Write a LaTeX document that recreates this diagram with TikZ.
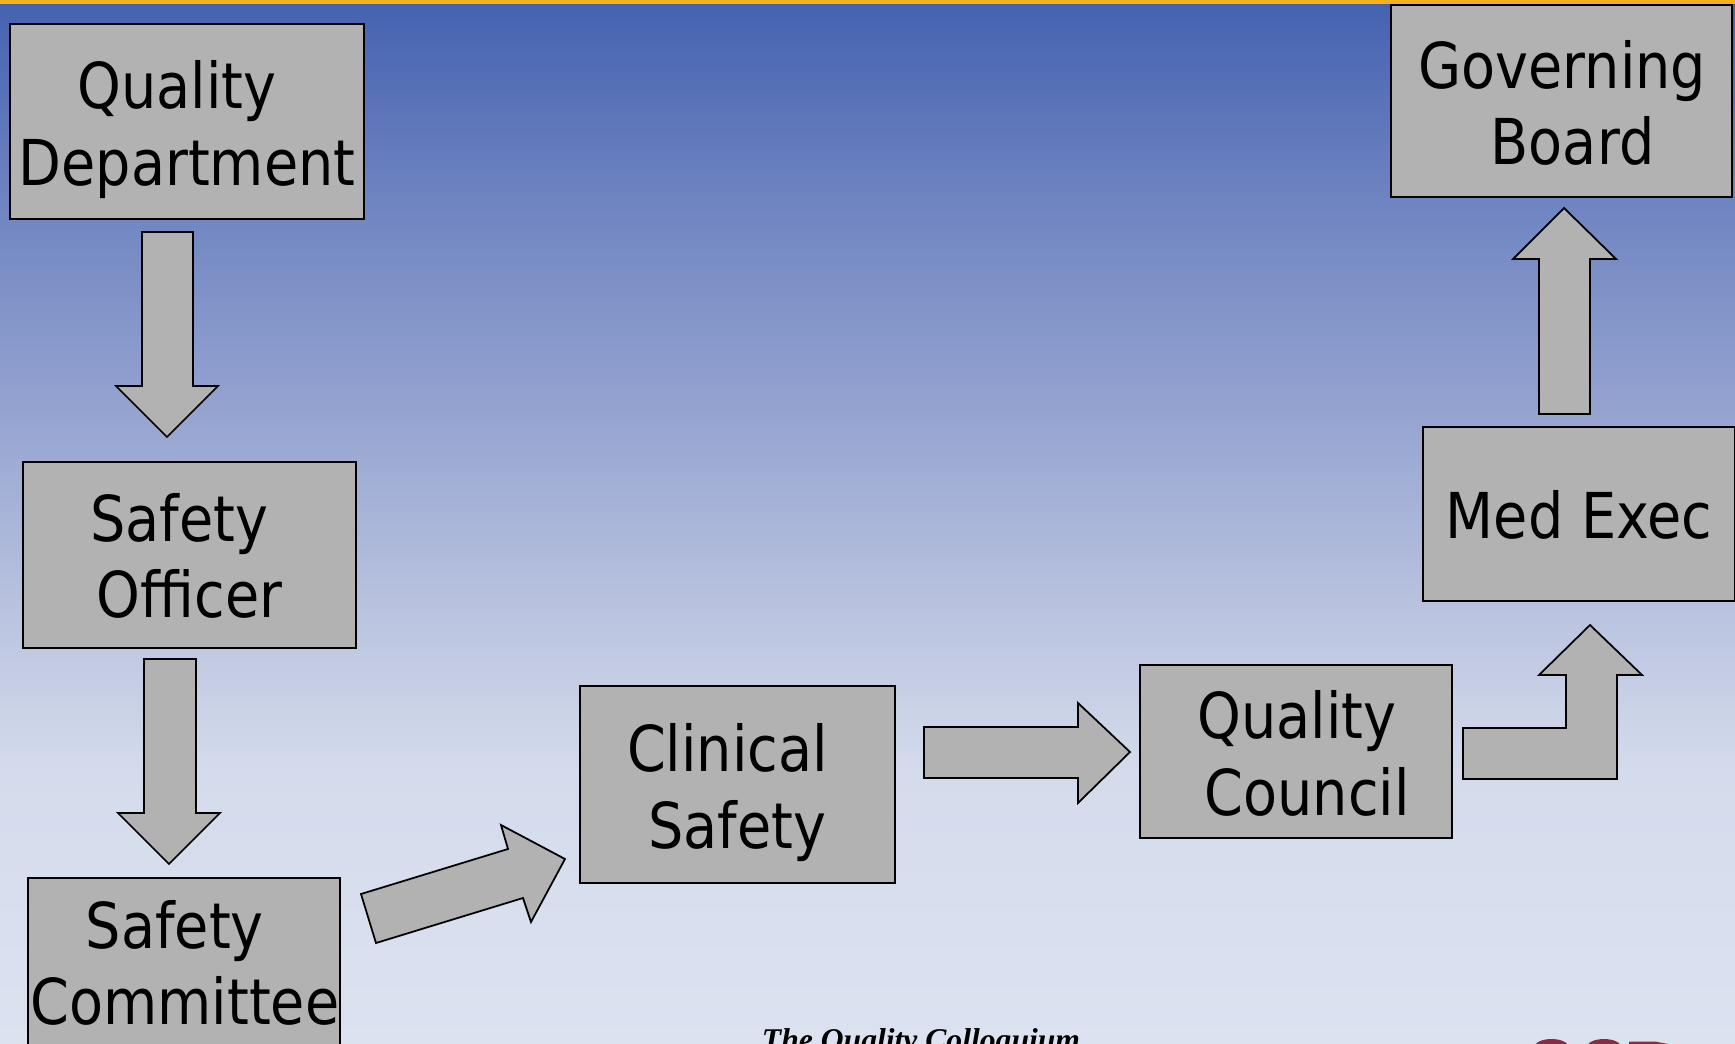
\documentclass[tikz,border=0pt]{standalone}
\usepackage{fontspec}
\setmainfont{DejaVu Sans}[FakeStretch=0.88]
\newfontfamily\footfont{Liberation Serif}
\usepackage{tikz}
\usetikzlibrary{calc}
\usetikzlibrary{positioning}

\definecolor{bartop}{HTML}{F5B01A}
\definecolor{boxgray}{HTML}{B2B2B2}
\definecolor{logored}{HTML}{8C2A44}

\pgfdeclareverticalshading{skyfade}{100bp}{
  rgb(0bp)=(0.863,0.886,0.941);
  rgb(25bp)=(0.863,0.886,0.941);
  rgb(38bp)=(0.831,0.859,0.925);
  rgb(44bp)=(0.753,0.788,0.886);
  rgb(56bp)=(0.573,0.631,0.812);
  rgb(66bp)=(0.424,0.510,0.753);
  rgb(75bp)=(0.267,0.384,0.690);
  rgb(100bp)=(0.267,0.384,0.690)}

\tikzset{
  box/.style={draw=black,line width=1,fill=boxgray,inner sep=0},
  boxtext/.style={inner sep=0,align=center,font=\fontsize{36}{43.5}\selectfont},
  blockarrow/.style={draw=black,line width=1,fill=boxgray,line join=miter},
}
\newcommand{\trail}{\hspace*{0.32em}}

\begin{document}
\begin{tikzpicture}[x=0.02cm,y=-0.02cm]
    \useasboundingbox (0,0) rectangle (1735,1044);
    \clip (0,0) rectangle (1735,1044);

    \shade [shading=skyfade] (0,0) rectangle (1735,1044);
    \fill [bartop] (0,0) rectangle (1735,4);

    \node [box,minimum width=354*0.02cm,minimum height=195*0.02cm] (qdept) at (187,121.5) {};
    \node [box,minimum width=333*0.02cm,minimum height=186*0.02cm] (officer) at (189.5,555) {};
    \node [box,minimum width=312*0.02cm,minimum height=190*0.02cm] (committee) at (184,973) {};
    \node [box,minimum width=315*0.02cm,minimum height=197*0.02cm] (clinical) at (737.5,784.5) {};
    \node [box,minimum width=312*0.02cm,minimum height=173*0.02cm] (qcouncil) at (1296,751.5) {};
    \node [box,minimum width=312*0.02cm,minimum height=174*0.02cm] (medexec) at (1579,514) {};
    \node [box,minimum width=341*0.02cm,minimum height=192*0.02cm] (board) at (1561.5,101) {};

    \node [boxtext] (qdepttext) at ($(qdept)+(0,8)$) {Quality\trail\\Department};
    \node [boxtext] (officertext) at ($(officer)+(0,1)$) {Safety\trail\\Officer};
    \node [boxtext] (committeetext) at ($(committee)+(1,-10)$) {Safety\trail\\Committee};
    \node [boxtext] (clinicaltext) at ($(clinical)+(0,8)$) {Clinical\trail\\Safety};
    \node [boxtext] (qcounciltext) at ($(qcouncil)+(11,2)$) {Quality\trail\\Council};
    \node [boxtext] (medexectext) at ($(medexec)+(0,1)$) {Med Exec};
    \node [boxtext] (boardtext) at ($(board)+(11,2)$) {Governing\trail\\Board};

    % block arrows
    \draw [blockarrow] (142,232) -- (193,232) -- (193,386) -- (218,386) -- (167,437) -- (116,386) -- (142,386) -- cycle;
    \draw [blockarrow] (144,659) -- (196,659) -- (196,813) -- (220,813) -- (169,864) -- (118,813) -- (144,813) -- cycle;
    \draw [blockarrow] (361,894) -- (508,849) -- (501,825) -- (565,859) -- (531,922) -- (523,898) -- (376,943) -- cycle;
    \draw [blockarrow] (924,727) -- (1078,727) -- (1078,703) -- (1130,752) -- (1078,803) -- (1078,778) -- (924,778) -- cycle;
    \draw [blockarrow] (1463,728) -- (1566,728) -- (1566,675) -- (1539,675) -- (1590,625) -- (1642,675) -- (1617,675) -- (1617,779) -- (1463,779) -- cycle;
    \draw [blockarrow] (1539,414) -- (1539,259) -- (1513,259) -- (1564,208) -- (1616,259) -- (1590,259) -- (1590,414) -- cycle;

    \node [anchor=north,inner sep=0,font=\footfont\bfseries\itshape\fontsize{18}{21}\selectfont] (footer) at (921,1028) {The Quality Colloquium};

    % logo, cut by the page edge
    \fill [logored] (1551.5,1047) ellipse (17 and 8);
    \fill [logored] (1604,1047) ellipse (17 and 8);
    \fill [logored] (1629,1041.5) -- (1655,1041.5) -- (1668,1044) -- (1629,1044) -- cycle;
\end{tikzpicture}
\end{document}
